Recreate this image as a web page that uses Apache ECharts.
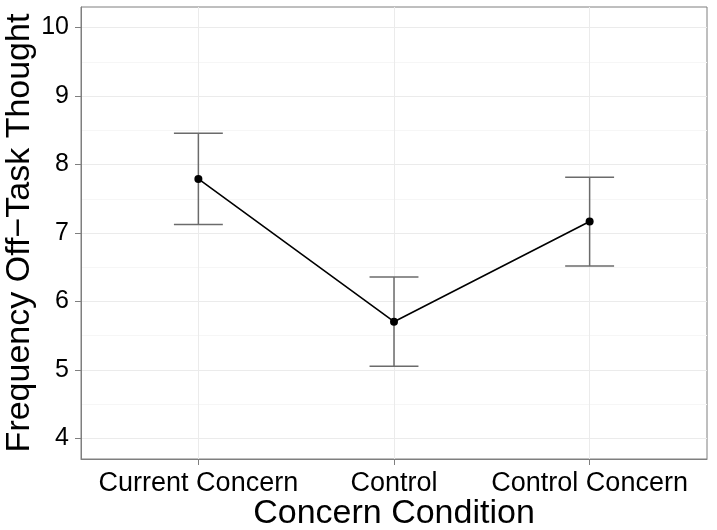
<!DOCTYPE html>
<html>
<head>
<meta charset="utf-8">
<script src="https://cdn.jsdelivr.net/npm/echarts@6/dist/echarts.min.js"></script>
<style>
html,body{margin:0;padding:0;background:#fff;}
#chart{width:717px;height:530px;}
</style>
</head>
<body>
<div id="chart"></div>
<script>
const categories = ["Current Concern", "Control", "Control Concern"];
const means = [7.79, 5.705, 7.167];
const lower = [7.123, 5.054, 6.517];
const upper = [8.455, 6.357, 7.814];
const yTicks = [4, 5, 6, 7, 8, 9, 10];
const yMinorTicks = [4.5, 5.5, 6.5, 7.5, 8.5, 9.5];
const xPositions = [1, 2, 3];

const FONT = '"Liberation Sans", Arial, Helvetica, sans-serif';
const chart = echarts.init(document.getElementById('chart'), null, {renderer: 'canvas'});

const lineData = means.map((m, i) => [xPositions[i], m]);
const errData = means.map((m, i) => [xPositions[i], lower[i], upper[i]]);
const capHalf = 0.125;

const option = {
  backgroundColor: '#ffffff',
  animation: false,
  grid: {
    left: 81, right: 10, top: 7, bottom: 71,
    containLabel: false, outerBoundsMode: 'none',
    show: true, borderColor: '#7f7f7f', borderWidth: 1, backgroundColor: '#ffffff'
  },
  xAxis: {
    type: 'value', min: 0.4, max: 3.6,
    name: 'Concern Condition', nameLocation: 'middle', nameGap: 38, nameMoveOverlap: false,
    nameTextStyle: {fontFamily: FONT, fontSize: 34, color: '#000', verticalAlign: 'top'},
    axisLine: {show: true, lineStyle: {color: '#7f7f7f', width: 1}},
    axisTick: {show: true, length: 6, customValues: xPositions, lineStyle: {color: '#7f7f7f', width: 1}},
    axisLabel: {
      customValues: xPositions, margin: 11,
      fontFamily: FONT, fontSize: 27, color: '#000',
      formatter: v => categories[Math.round(v) - 1] || ''
    },
    splitLine: {show: true, lineStyle: {color: '#ebebeb', width: 1}}
  },
  yAxis: [{
    type: 'value', min: 3.7, max: 10.3,
    name: 'Frequency Off\u2212Task Thought', nameLocation: 'middle', nameGap: 44, nameRotate: 90,
    nameMoveOverlap: false,
    nameTextStyle: {fontFamily: FONT, fontSize: 34, color: '#000'},
    axisLine: {show: true, lineStyle: {color: '#7f7f7f', width: 1}},
    axisTick: {show: true, length: 6, customValues: yTicks, lineStyle: {color: '#7f7f7f', width: 1}},
    axisLabel: {customValues: yTicks, margin: 12, fontFamily: FONT, fontSize: 25, color: '#000'},
    splitLine: {show: true, lineStyle: {color: '#ebebeb', width: 1}}
  }, {
    type: 'value', min: 3.7, max: 10.3, position: 'left',
    axisLine: {show: false},
    axisTick: {show: false, customValues: yMinorTicks},
    axisLabel: {show: false, customValues: yMinorTicks},
    splitLine: {show: true, lineStyle: {color: '#f6f6f6', width: 1}}
  }],
  series: [{
    type: 'custom',
    yAxisIndex: 0,
    data: errData,
    z: 2,
    renderItem: function (params, api) {
      const x = api.value(0), lo = api.value(1), hi = api.value(2);
      const pLo = api.coord([x, lo]), pHi = api.coord([x, hi]);
      const cl1 = api.coord([x - capHalf, lo]), cl2 = api.coord([x + capHalf, lo]);
      const ch1 = api.coord([x - capHalf, hi]), ch2 = api.coord([x + capHalf, hi]);
      const style = {stroke: '#6b6b6b', lineWidth: 1.5, fill: null};
      return {
        type: 'group',
        children: [
          {type: 'line', shape: {x1: pLo[0], y1: pLo[1], x2: pHi[0], y2: pHi[1]}, style: style},
          {type: 'line', shape: {x1: cl1[0], y1: cl1[1], x2: cl2[0], y2: cl2[1]}, style: style},
          {type: 'line', shape: {x1: ch1[0], y1: ch1[1], x2: ch2[0], y2: ch2[1]}, style: style}
        ]
      };
    }
  }, {
    type: 'line',
    yAxisIndex: 0,
    data: lineData,
    z: 3,
    symbol: 'circle', symbolSize: 8,
    itemStyle: {color: '#000'},
    lineStyle: {color: '#000', width: 1.6}
  }]
};
chart.setOption(option);
</script>
</body>
</html>
